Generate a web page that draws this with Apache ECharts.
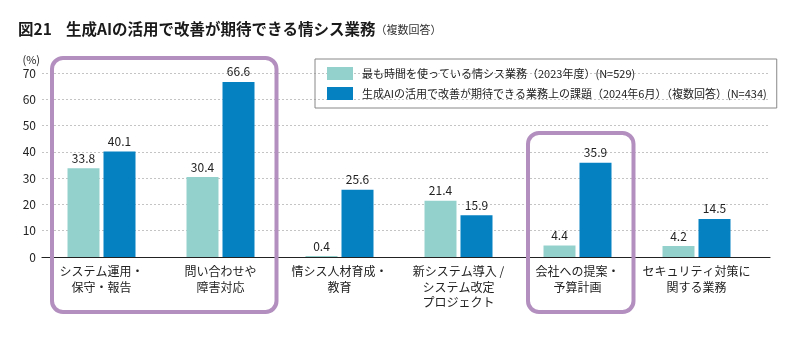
<!DOCTYPE html>
<html>
<head>
<meta charset="utf-8">
<script src="https://cdn.jsdelivr.net/npm/echarts@6/dist/echarts.min.js"></script>
<style>
  html, body { margin: 0; padding: 0; background: #fff; }
  #chart { width: 800px; height: 339px; }
</style>
</head>
<body>
<div id="chart"></div>
<script>
// Categories of IT department work
const categories = [
  'システム運用・\n保守・報告',
  '問い合わせや\n障害対応',
  '情シス人材育成・\n教育',
  '新システム導入 /\nシステム改定\nプロジェクト',
  '会社への提案・\n予算計画',
  'セキュリティ対策に\n関する業務'
];
const seriesNames = [
  '最も時間を使っている情シス業務（2023年度）(N=529)',
  '生成AIの活用で改善が期待できる業務上の課題（2024年6月）（複数回答）(N=434)'
];
const mostTime2023 = [33.8, 30.4, 0.4, 21.4, 4.4, 4.2];
const aiExpected2024 = [40.1, 66.6, 25.6, 15.9, 35.9, 14.5];
const yTicks = [0, 10, 20, 30, 40, 50, 60, 70];

const FONT = '"Noto Sans CJK JP", "Noto Sans", sans-serif';
const LIGHT = '#93d1cd';
const DARK = '#0581c2';
const PURPLE = '#b38fbf';

const chart = echarts.init(document.getElementById('chart'));

const valueAxisBase = {
  type: 'value',
  min: yTicks[0],
  max: yTicks[yTicks.length - 1],
  interval: yTicks[1] - yTicks[0]
};

chart.setOption({
  backgroundColor: '#fff',
  textStyle: { fontFamily: FONT },
  animation: false,
  title: {
    text: '{n|図21}{m|生成AIの活用で改善が期待できる情シス業務}{s|（複数回答）}',
    left: 13,
    top: 16,
    textStyle: {
      fontFamily: FONT,
      rich: {
        n: { fontFamily: FONT, fontSize: 15.5, fontWeight: 'bold', color: '#1a1a1a', width: 48 },
        m: { fontFamily: FONT, fontSize: 15.5, fontWeight: 'bold', color: '#1a1a1a' },
        s: { fontFamily: FONT, fontSize: 11, fontWeight: 'normal', color: '#333', padding: [2, 0, 0, 0] }
      }
    }
  },
  legend: {
    orient: 'vertical',
    left: 315,
    top: 59,
    padding: [8, 10, 8, 12],
    itemWidth: 26,
    itemHeight: 13,
    itemGap: 7,
    borderColor: '#888',
    borderWidth: 1,
    icon: 'rect',
    data: seriesNames,
    textStyle: { fontFamily: FONT, fontSize: 11, color: '#222', padding: [0, 0, 0, 4] }
  },
  grid: [
    // gridlines span
    { left: 42, right: 30, top: 73, bottom: 82 },
    // bars
    { left: 42, right: 44, top: 73, bottom: 82 }
  ],
  xAxis: [
    {
      gridIndex: 0, type: 'value', min: 0, max: 1,
      axisLine: { show: true, onZero: false, lineStyle: { color: '#222', width: 1.2 } },
      axisTick: { show: false }, axisLabel: { show: false }, splitLine: { show: false }
    },
    {
      gridIndex: 1, type: 'category', data: categories,
      axisLine: { show: false }, axisTick: { show: false },
      axisLabel: {
        fontFamily: FONT, fontSize: 12, color: '#222', lineHeight: 15.5, margin: 7,
        interval: 0
      }
    }
  ],
  yAxis: [
    Object.assign({}, valueAxisBase, {
      gridIndex: 0,
      name: '(%)',
      nameLocation: 'end',
      nameGap: 8,
      nameTextStyle: { fontFamily: FONT, fontSize: 11, color: '#222', align: 'right', padding: [0, 2, 0, 0] },
      axisLine: { show: false }, axisTick: { show: false },
      axisLabel: { fontFamily: FONT, fontSize: 12, color: '#222', margin: 6 },
      splitLine: { lineStyle: { color: '#c4c4c4', type: [2, 2], width: 1 } }
    }),
    Object.assign({}, valueAxisBase, {
      gridIndex: 1, show: false, splitLine: { show: false }
    })
  ],
  series: [
    {
      name: seriesNames[0], type: 'bar', xAxisIndex: 1, yAxisIndex: 1,
      data: mostTime2023, barWidth: 32, barGap: '12.5%',
      itemStyle: { color: LIGHT },
      label: { show: true, position: 'top', distance: 4, fontFamily: FONT, fontSize: 12, color: '#222' },
      z: 3
    },
    {
      name: seriesNames[1], type: 'bar', xAxisIndex: 1, yAxisIndex: 1,
      data: aiExpected2024, barWidth: 32, barGap: '12.5%',
      itemStyle: { color: DARK },
      label: { show: true, position: 'top', distance: 4, fontFamily: FONT, fontSize: 12, color: '#222' },
      z: 3
    }
  ]
});

// Rounded frames around the highlighted categories
const frames = [
  { from: 0, to: 1, top: 58 },
  { from: 4, to: 4, top: 133 }
];
const graphics = frames.map(f => {
  const x0 = chart.convertToPixel({ xAxisIndex: 1 }, f.from) - 49.5;
  const x1 = chart.convertToPixel({ xAxisIndex: 1 }, f.to) + 56;
  return {
    type: 'rect',
    shape: { x: x0, y: f.top, width: x1 - x0, height: 312 - f.top, r: 11 },
    style: { fill: 'none', stroke: PURPLE, lineWidth: 4 },
    z: 10
  };
});
chart.setOption({ graphic: graphics });
</script>
</body>
</html>
